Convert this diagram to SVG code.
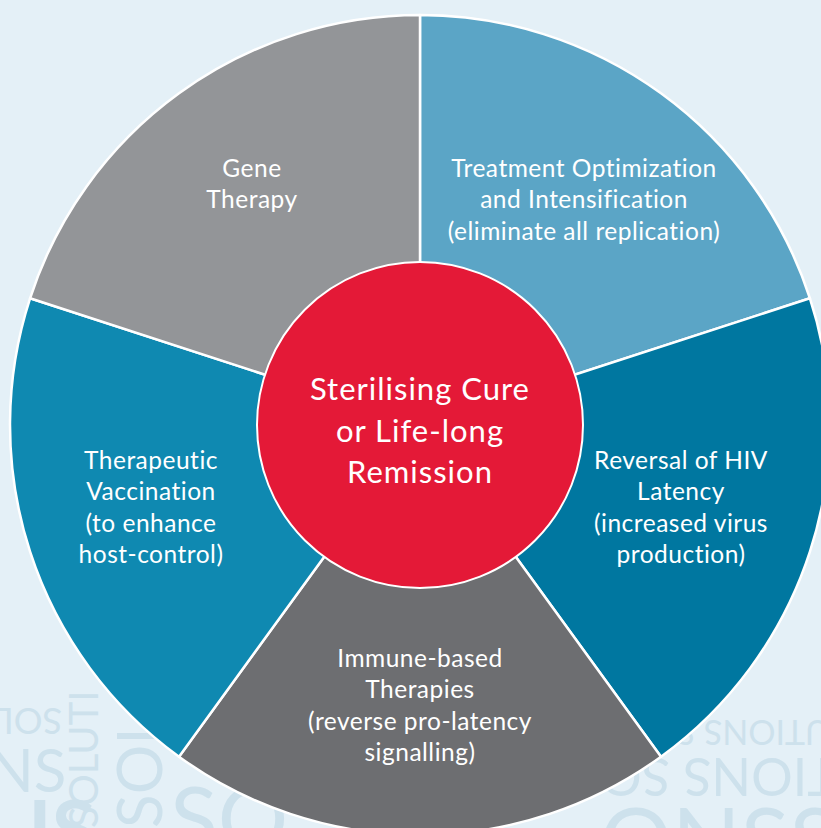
<svg xmlns="http://www.w3.org/2000/svg" width="821" height="828" viewBox="0 0 821 828">
<style>
.seg{stroke:#ffffff;stroke-width:2.5;stroke-linejoin:round}
.lbl{font-family:Lato,"Open Sans","DejaVu Sans",sans-serif;font-size:24.5px;letter-spacing:0.5px;fill:#ffffff;text-anchor:middle}
.ctr{font-family:Lato,"Open Sans","DejaVu Sans",sans-serif;font-size:31px;letter-spacing:1px;fill:#ffffff;text-anchor:middle}
.wm{font-family:Lato,"Open Sans","DejaVu Sans",sans-serif;fill:#cde1ec}
</style>
<rect x="0" y="0" width="821" height="828" fill="#e4f0f7"/>
<g id="watermark">
  <text class="wm" font-size="36" transform="translate(62,708) rotate(180)">SOLUTIONS</text>
  <text class="wm" font-size="60" x="-12" y="792">NS</text>
  <text class="wm" font-size="80" font-weight="bold" x="28" y="858">IS</text>
  <text class="wm" font-size="40" transform="translate(98,828) rotate(-90)">SOLUTI</text>
  <text class="wm" font-size="62" transform="translate(162,828) rotate(-90)">SOLO</text>
  <text class="wm" font-size="88" x="170" y="850">SO</text>
  <text class="wm" font-size="34" transform="translate(830,720) rotate(180)">UTIONS SOLUTIONS</text>
  <text class="wm" font-size="52" transform="translate(838,758) rotate(180)">TIONS SOLUTIONS</text>
  <text class="wm" font-size="90" x="600" y="872">ONSS</text>
</g>
<g id="connectors"></g>
<g id="seg-treatment">
  <path class="seg" fill="#5ba5c6" d="M420,425 L420,15 A410,410 0 0 1 809.93,298.30 Z"/>
  <text class="lbl" x="584" y="177">Treatment Optimization</text>
  <text class="lbl" x="584" y="208">and Intensification</text>
  <text class="lbl" x="584" y="240">(eliminate all replication)</text>
</g>
<g id="seg-reversal">
  <path class="seg" fill="#0077a0" d="M420,425 L809.93,298.30 A410,410 0 0 1 660.99,756.70 Z"/>
  <text class="lbl" x="681" y="469">Reversal of HIV</text>
  <text class="lbl" x="681" y="500">Latency</text>
  <text class="lbl" x="681" y="532">(increased virus</text>
  <text class="lbl" x="681" y="563">production)</text>
</g>
<g id="seg-immune">
  <path class="seg" fill="#6d6e71" d="M420,425 L660.99,756.70 A410,410 0 0 1 179.01,756.70 Z"/>
  <text class="lbl" x="420" y="667">Immune-based</text>
  <text class="lbl" x="420" y="698">Therapies</text>
  <text class="lbl" x="420" y="730">(reverse pro-latency</text>
  <text class="lbl" x="420" y="761">signalling)</text>
</g>
<g id="seg-vaccination">
  <path class="seg" fill="#0f89b1" d="M420,425 L179.01,756.70 A410,410 0 0 1 30.07,298.30 Z"/>
  <text class="lbl" x="151" y="469">Therapeutic</text>
  <text class="lbl" x="151" y="500">Vaccination</text>
  <text class="lbl" x="151" y="532">(to enhance</text>
  <text class="lbl" x="151" y="563">host-control)</text>
</g>
<g id="seg-gene">
  <path class="seg" fill="#939598" d="M420,425 L30.07,298.30 A410,410 0 0 1 420,15 Z"/>
  <text class="lbl" x="252" y="177">Gene</text>
  <text class="lbl" x="252" y="208">Therapy</text>
</g>
<g id="center">
  <circle cx="420" cy="425" r="163" fill="#e41937" stroke="#ffffff" stroke-width="2"/>
  <text class="ctr" x="420" y="400">Sterilising Cure</text>
  <text class="ctr" x="420" y="442">or Life-long</text>
  <text class="ctr" x="420" y="483">Remission</text>
</g>
</svg>
